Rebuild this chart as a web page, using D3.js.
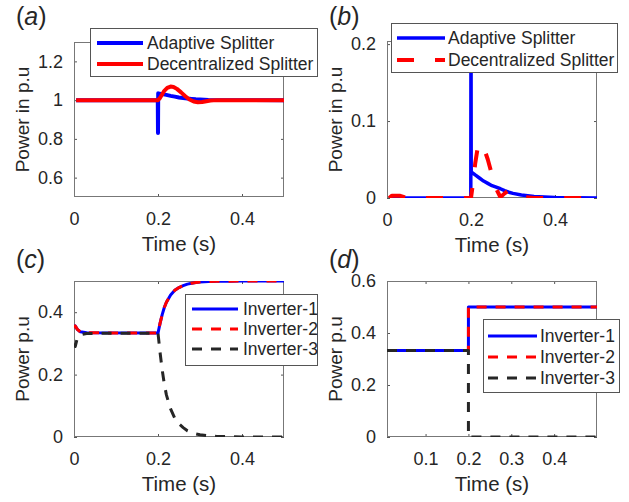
<!DOCTYPE html>
<meta charset="utf-8">
<head>
  <meta charset="utf-8">
  <title>Power splitter responses</title>
</head>
<style>
body { margin: 0; background: #fff; }
svg { display: block; font-family: 'Liberation Sans', Arial, sans-serif; }
.axlabel { fill: #262626; font-size: 19px; }
.xlabel { font-size: 20.5px; }
.legend text { fill: #262626; font-size: 17.5px; }
.plabel { fill: #262626; font-size: 25px; }
</style>
<body>
<div id="chart"></div>

<script src="https://cdn.jsdelivr.net/npm/d3@7"></script>
<script>

// ---- data ----
// (a) power in p.u
var adaptiveA = [[0.005,1],[0.1995,1],[0.2,0.83],[0.2005,1.035],[0.21,1.031],[0.22,1.027],[0.23,1.022],
  [0.24,1.018],[0.25,1.014],[0.26,1.011],[0.27,1.008],[0.28,1.006],[0.29,1.004],[0.30,1.003],[0.32,1.001],[0.35,1.0],[0.5,1.0]]
var decentralA = [[0.005,1],[0.2,1],[0.205,1.012],[0.21,1.03],[0.215,1.048],[0.222,1.063],[0.23,1.07],
  [0.237,1.068],[0.245,1.058],[0.255,1.04],[0.265,1.02],[0.275,1.003],[0.285,0.993],[0.295,0.989],
  [0.305,0.99],[0.315,0.994],[0.325,0.998],[0.34,1.0],[0.5,1.0]]

// (b) power in p.u (deviation)
var adaptiveB = [[0.005,0],[0.1995,0],[0.2,0.25],[0.2005,0.034],[0.21,0.03],[0.22,0.026],[0.23,0.022],
  [0.24,0.019],[0.25,0.016],[0.26,0.014],[0.27,0.012],[0.28,0.0095],[0.29,0.0075],[0.30,0.006],
  [0.32,0.004],[0.35,0.002],[0.40,0.0007],[0.45,0.0002],[0.5,0]]
var decentralB = [[0.005,0],[0.012,0.003],[0.03,0.003],[0.045,0.0005],[0.06,0],[0.2,0],[0.205,0.02],
  [0.21,0.045],[0.215,0.062],[0.222,0.072],[0.23,0.066],[0.24,0.05],[0.25,0.03],[0.26,0.012],
  [0.27,0.001],[0.28,0.006],[0.29,0.01],[0.30,0.007],[0.31,0.003],[0.33,0.001],[0.35,0],[0.5,0]]

// (c) power p.u per inverter
var inv1C = [[0,0.35],[0.003,0.356],[0.008,0.345],[0.015,0.337],[0.03,0.334],[0.2,0.333],[0.205,0.365],
  [0.21,0.392],[0.215,0.415],[0.22,0.432],[0.23,0.455],[0.24,0.47],[0.25,0.479],[0.26,0.485],[0.27,0.49],
  [0.28,0.493],[0.29,0.495],[0.30,0.4965],[0.32,0.498],[0.34,0.499],[0.37,0.4995],[0.40,0.5],[0.5,0.5]]
var inv2C = inv1C
var inv3C = [[0,0.3],[0.003,0.29],[0.008,0.318],[0.015,0.328],[0.03,0.332],[0.2,0.333],[0.205,0.27],
  [0.21,0.215],[0.215,0.17],[0.22,0.135],[0.23,0.09],[0.24,0.06],[0.25,0.042],[0.26,0.03],[0.27,0.02],
  [0.28,0.014],[0.29,0.01],[0.30,0.007],[0.32,0.004],[0.34,0.002],[0.37,0.001],[0.40,0],[0.5,0]]

// (d) power p.u per inverter, ideal split
var inv1D = [[0.01,0.333],[0.2,0.333],[0.2,0.5],[0.5,0.5]]
var inv2D = inv1D
var inv3D = [[0.01,0.333],[0.2,0.333],[0.2,0],[0.5,0]]

var ticksA = { x: [0, 0.2, 0.4], y: [0.6, 0.8, 1, 1.2] }
var ticksB = { x: [0, 0.2, 0.4], y: [0, 0.1, 0.2] }
var ticksC = { x: [0, 0.2, 0.4], y: [0, 0.2, 0.4] }
var ticksD = { x: [0.1, 0.2, 0.3, 0.4], y: [0, 0.2, 0.4, 0.6] }

var splitterNames = ['Adaptive Splitter', 'Decentralized Splitter']
var inverterNames = ['Inverter-1', 'Inverter-2', 'Inverter-3']

// ---- layout ----
var width = 629
var height = 502
var blue = '#0000ff', red = '#ff0000', black = '#262626'

var svg = d3.select('#chart').append('svg')
    .attr('width', width)
    .attr('height', height)

var panels = [
  { id: 'a', box: [74, 284, 42, 197], xd: [0, 0.5], yd: [0.5, 1.3], ticks: ticksA, ylabel: 'Power in p.u',
    series: [
      { data: adaptiveA, color: blue, w: 4, dash: null },
      { data: decentralA, color: red, w: 4, dash: null }],
    legend: { names: splitterNames, box: [90, 317, 28, 76], rows: [43, 64], sx: [97, 143], tx: 147 } },
  { id: 'b', box: [387, 597, 41, 198], xd: [0, 0.5], yd: [0, 0.204], ticks: ticksB, ylabel: 'Power in p.u',
    series: [
      { data: adaptiveB, color: blue, w: 3.5, dash: null },
      { data: decentralB, color: red, w: 4, dash: '17,21' }],
    legend: { names: splitterNames, box: [391, 617, 23, 72], rows: [38, 60], sx: [397, 445], tx: 448 } },
  { id: 'c', box: [74, 284, 281, 437], xd: [0, 0.5], yd: [0, 0.5], ticks: ticksC, ylabel: 'Power p.u',
    series: [
      { data: inv1C, color: blue, w: 3, dash: null },
      { data: inv2C, color: red, w: 3, dash: '10,9' },
      { data: inv3C, color: black, w: 3, dash: '10,9' }],
    legend: { names: inverterNames, box: [185, 317, 294, 365], rows: [309, 329, 349], sx: [192, 238], tx: 243 } },
  { id: 'd', box: [387, 597, 281, 437], xd: [0.01, 0.5], yd: [0, 0.6], ticks: ticksD, ylabel: 'Power p.u',
    series: [
      { data: inv1D, color: blue, w: 3, dash: null },
      { data: inv2D, color: red, w: 3, dash: '10,9' },
      { data: inv3D, color: black, w: 3, dash: '10,9' }],
    legend: { names: inverterNames, box: [483, 619, 319, 392], rows: [336, 357, 378], sx: [488, 537], tx: 540 } }
]

panels.forEach(function (p) {
  var x0 = p.box[0], x1 = p.box[1], y0 = p.box[2], y1 = p.box[3]
  var x = d3.scaleLinear().domain(p.xd).range([x0, x1])
  var y = d3.scaleLinear().domain(p.yd).range([y1, y0])
  var g = svg.append('g').attr('class', 'panel-' + p.id)

  g.append('rect')
    .attr('x', x0).attr('y', y0)
    .attr('width', x1 - x0).attr('height', y1 - y0)
    .attr('fill', '#fff')

  // axes, MATLAB style: inward ticks mirrored on every side
  var fmt = function (d) { return String(d) }
  g.append('g')
    .attr('transform', 'translate(0,' + y1 + ')')
    .call(d3.axisBottom(x).tickValues(p.ticks.x).tickFormat(fmt).tickSizeInner(-3).tickSizeOuter(0).tickPadding(15))
  g.append('g')
    .attr('transform', 'translate(0,' + y0 + ')')
    .call(d3.axisTop(x).tickValues(p.ticks.x).tickFormat('').tickSizeInner(-3).tickSizeOuter(0))
  g.append('g')
    .attr('transform', 'translate(' + x0 + ',0)')
    .call(d3.axisLeft(y).tickValues(p.ticks.y).tickFormat(fmt).tickSizeInner(-3).tickSizeOuter(0).tickPadding(11))
  g.append('g')
    .attr('transform', 'translate(' + x1 + ',0)')
    .call(d3.axisRight(y).tickValues(p.ticks.y).tickFormat('').tickSizeInner(-3).tickSizeOuter(0))
  g.selectAll('.domain').remove()
  g.selectAll('.tick line').attr('stroke', '#555')
  g.selectAll('.tick text').attr('fill', '#262626').style('font-size', '18px')
    .style('font-family', "'Liberation Sans', Arial, sans-serif")

  // clipped data lines
  g.append('clipPath').attr('id', 'clip-' + p.id)
    .append('rect').attr('x', x0).attr('y', y0).attr('width', x1 - x0).attr('height', y1 - y0)

  var line = d3.line().x(function (d) { return x(d[0]) }).y(function (d) { return y(d[1]) })

  g.append('rect')
    .attr('x', x0 + 0.5).attr('y', y0 + 0.5)
    .attr('width', x1 - x0 - 1).attr('height', y1 - y0 - 1)
    .attr('fill', 'none').attr('stroke', '#777').attr('stroke-width', 1)

  var lines = g.append('g').attr('clip-path', 'url(#clip-' + p.id + ')')
  p.series.forEach(function (s) {
    lines.append('path')
      .attr('d', line(s.data))
      .attr('fill', 'none')
      .attr('stroke', s.color)
      .attr('stroke-width', s.w)
      .attr('stroke-linejoin', 'round')
      .attr('stroke-dasharray', s.dash)
  })

  // axis labels
  g.append('text').attr('class', 'axlabel xlabel')
    .attr('x', (x0 + x1) / 2).attr('y', y1 + 54)
    .attr('text-anchor', 'middle')
    .text('Time (s)')
  var lx = x0 - 45
  g.append('text').attr('class', 'axlabel')
    .attr('transform', 'translate(' + lx + ',' + ((y0 + y1) / 2) + ') rotate(-90)')
    .attr('text-anchor', 'middle')
    .text(p.ylabel)

  // panel letter
  var pl = g.append('text').attr('class', 'plabel')
    .attr('x', x0 - 58).attr('y', y0 < 100 ? 25 : 268)
  pl.append('tspan').text('(')
  pl.append('tspan').style('font-style', 'italic').text(p.id)
  pl.append('tspan').text(')')

  // legend
  var L = p.legend
  var lg = g.append('g').attr('class', 'legend')
  lg.append('rect')
    .attr('x', L.box[0] + 0.5).attr('y', L.box[2] + 0.5)
    .attr('width', L.box[1] - L.box[0]).attr('height', L.box[3] - L.box[2])
    .attr('fill', '#fff').attr('stroke', '#555').attr('stroke-width', 1)
  L.names.forEach(function (name, i) {
    var s = p.series[i]
    lg.append('line')
      .attr('x1', L.sx[0]).attr('x2', L.sx[1])
      .attr('y1', L.rows[i]).attr('y2', L.rows[i])
      .attr('stroke', s.color).attr('stroke-width', s.w)
      .attr('stroke-dasharray', s.dash)
    lg.append('text')
      .attr('x', L.tx).attr('y', L.rows[i]).attr('dy', '0.36em')
      .text(name)
  })
})

</script>
</body>
